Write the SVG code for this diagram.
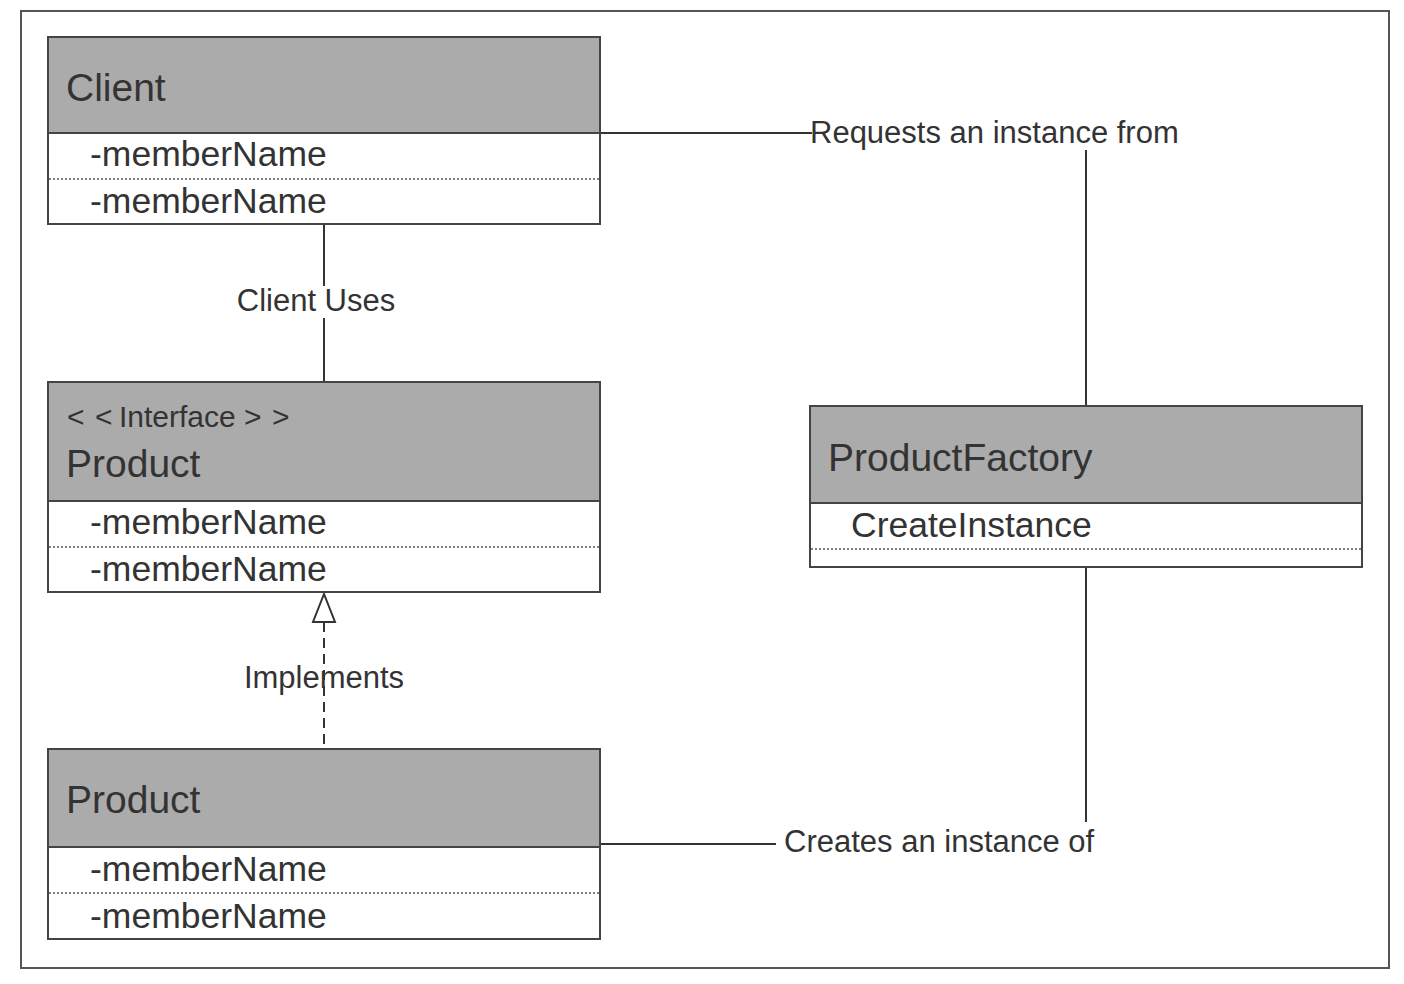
<svg xmlns="http://www.w3.org/2000/svg" width="1404" height="984" viewBox="0 0 1404 984">
<style>
.frame{fill:#fff;stroke:#555;stroke-width:2}
.hdr{fill:#ababab;stroke:#444;stroke-width:2}
.body{fill:#fff;stroke:#444;stroke-width:2}
.dot{stroke:#555;stroke-width:1.5;stroke-dasharray:2 2;fill:none}
.title{font-family:"Liberation Sans",Arial,sans-serif;font-size:39px;fill:#333}
.stereo{font-family:"Liberation Sans",Arial,sans-serif;font-size:30px;fill:#333}
.mem{font-family:"Liberation Sans",Arial,sans-serif;font-size:35.5px;fill:#333}
.lbl{font-family:"Liberation Sans",Arial,sans-serif;font-size:31px;fill:#333}
.ln{stroke:#333;stroke-width:2;fill:none}
</style>
<rect class="frame" x="21" y="11" width="1368" height="957"/>
<g id="connectors">
<line class="ln" x1="600" y1="133" x2="812" y2="133"/>
<line class="ln" x1="1086" y1="150" x2="1086" y2="406"/>
<line class="ln" x1="324" y1="224" x2="324" y2="286"/>
<line class="ln" x1="324" y1="318" x2="324" y2="382"/>
<line class="ln" x1="324" y1="622" x2="324" y2="749" stroke-dasharray="10 6"/>
<polygon points="324,594 313,622 335,622" fill="#fff" stroke="#333" stroke-width="2"/>
<line class="ln" x1="1086" y1="567" x2="1086" y2="822"/>
<line class="ln" x1="600" y1="844" x2="776" y2="844"/>
<text class="lbl" x="810" y="143">Requests an instance from</text>
<text class="lbl" x="316" y="311" text-anchor="middle">Client Uses</text>
<text class="lbl" x="324" y="688" text-anchor="middle">Implements</text>
<text class="lbl" x="784" y="852">Creates an instance of</text>
</g>
<g id="client">
<rect class="hdr" x="48" y="37" width="552" height="96"/>
<rect class="body" x="48" y="133" width="552" height="91"/>
<line class="dot" x1="49" y1="179" x2="599" y2="179"/>
<text class="title" x="66" y="101">Client</text>
<text class="mem" x="90" y="166">-memberName</text>
<text class="mem" x="90" y="213">-memberName</text>
</g>
<g id="iproduct">
<rect class="hdr" x="48" y="382" width="552" height="119"/>
<rect class="body" x="48" y="501" width="552" height="91"/>
<line class="dot" x1="49" y1="547" x2="599" y2="547"/>
<text class="stereo" y="427"><tspan x="67">&lt;</tspan><tspan x="95">&lt;</tspan><tspan x="119">Interface</tspan><tspan x="244">&gt;</tspan><tspan x="272">&gt;</tspan></text>
<text class="title" x="66" y="477">Product</text>
<text class="mem" x="90" y="534">-memberName</text>
<text class="mem" x="90" y="581">-memberName</text>
</g>
<g id="product">
<rect class="hdr" x="48" y="749" width="552" height="98"/>
<rect class="body" x="48" y="847" width="552" height="92"/>
<line class="dot" x1="49" y1="893" x2="599" y2="893"/>
<text class="title" x="66" y="813">Product</text>
<text class="mem" x="90" y="881">-memberName</text>
<text class="mem" x="90" y="928">-memberName</text>
</g>
<g id="productfactory">
<rect class="hdr" x="810" y="406" width="552" height="97"/>
<rect class="body" x="810" y="503" width="552" height="64"/>
<line class="dot" x1="811" y1="549" x2="1361" y2="549"/>
<text class="title" x="828" y="471">ProductFactory</text>
<text class="mem" x="851" y="537">CreateInstance</text>
</g>
</svg>
